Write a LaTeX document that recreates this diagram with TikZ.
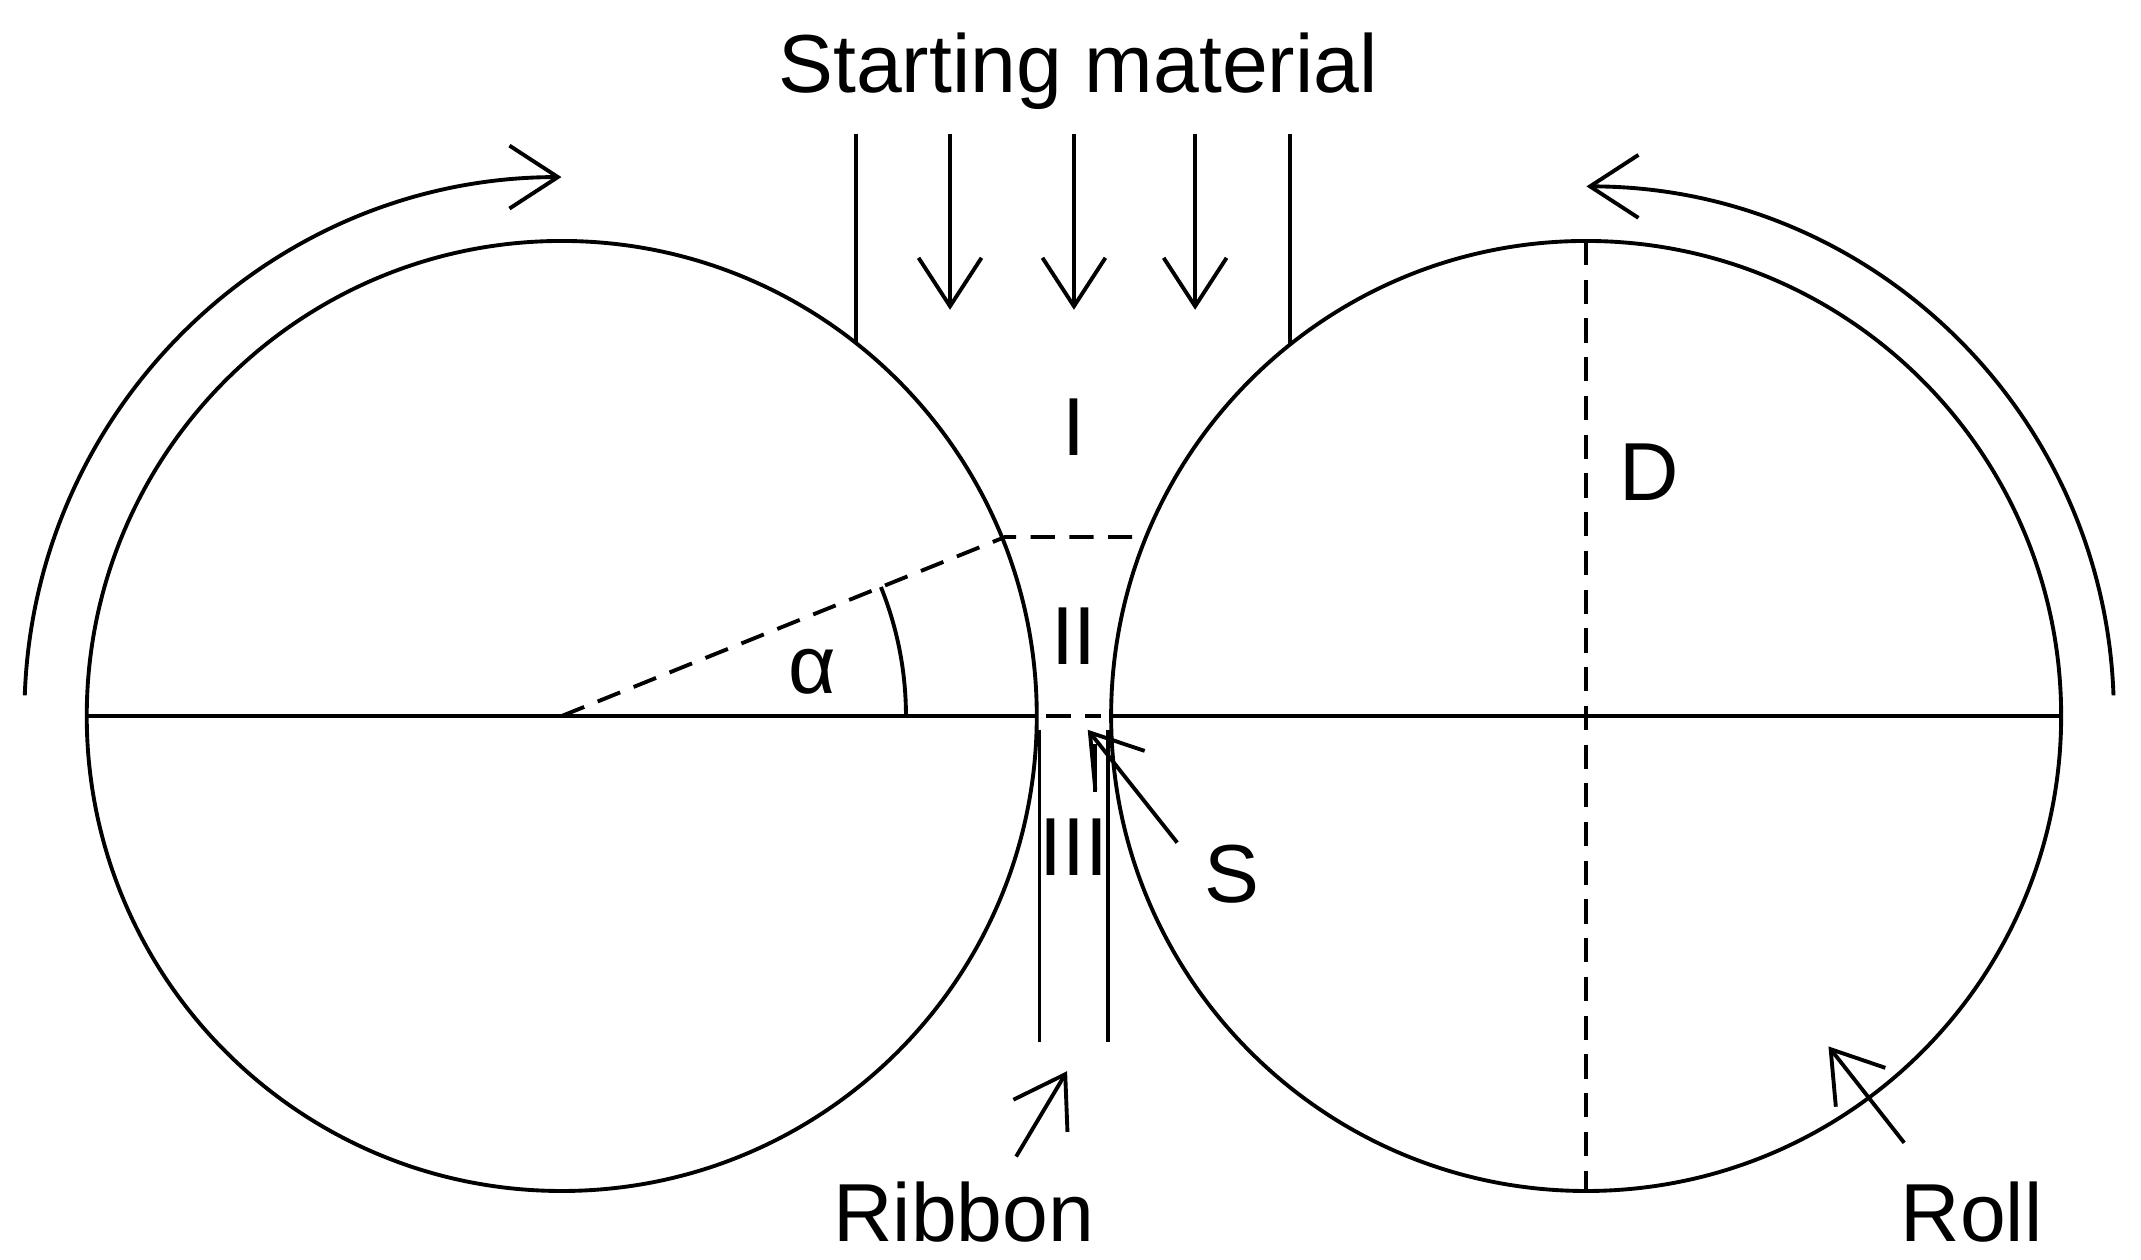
\documentclass[tikz,border=0pt]{standalone}
\usepackage{fontspec}
\setmainfont{Liberation Sans}
\usetikzlibrary{arrows.meta}
\begin{document}
\begin{tikzpicture}[x=0.01cm,y=-0.01cm,line width=0.8pt,
  lbl/.style={font=\fontsize{17}{19}\selectfont,inner sep=0pt},
  barb/.style={-{Straight Barb[length=10pt,width=13pt]}},
  dsh/.style={dashed,dash pattern=on 5pt off 3pt}]
\useasboundingbox (0,0) rectangle (1555,915);
\coordinate (cl) at (408,520);
\coordinate (cr) at (1152,520);
\draw (cl) circle (345);
\draw (cr) circle (345);
\draw (63,520) -- (753,520);
\draw (807,520) -- (1497,520);
\draw[dsh] (760,520) -- (800,520);
\draw[dsh] (1152,175) -- (1152,865);
\draw[dsh] (cl) -- (730,390) -- (832,390);
\draw (658,520) arc (0:-22:250);
% hopper
\draw (622,97) -- (622,249);
\draw (937,97) -- (937,250);
\foreach \x in {690,780,868} \draw[barb] (\x,97) -- (\x,225);
% ribbon
\draw (755,530) -- (755,757);
\draw (805,530) -- (805,757);
% rotation arrows
\draw[barb] (18,505) arc (182:270:390);
\draw[barb] (1535,505) arc (-2:-90:383);
% labels
\node[lbl] (sm) at (783,52) {Starting material};
\node[lbl] (r1) at (780,310) {I};
\node[lbl] (r2) at (780,462) {II};
\node[lbl] (r3) at (780,615) {III};
\node[lbl] (d) at (1198,343) {D};
\node[lbl] (al) at (590,488) {α};
\node[lbl] (s) at (895,635) {S};
\node[lbl] (rib) at (700,880) {Ribbon};
\node[lbl] (roll) at (1432,880) {Roll};
\draw[barb] (855,612) -- (790,530);
\draw (795,540) -- (795,575);
\draw[barb] (738,840) -- (775,778);
\draw[barb] (1383,830) -- (1328,760);
\end{tikzpicture}
\end{document}
